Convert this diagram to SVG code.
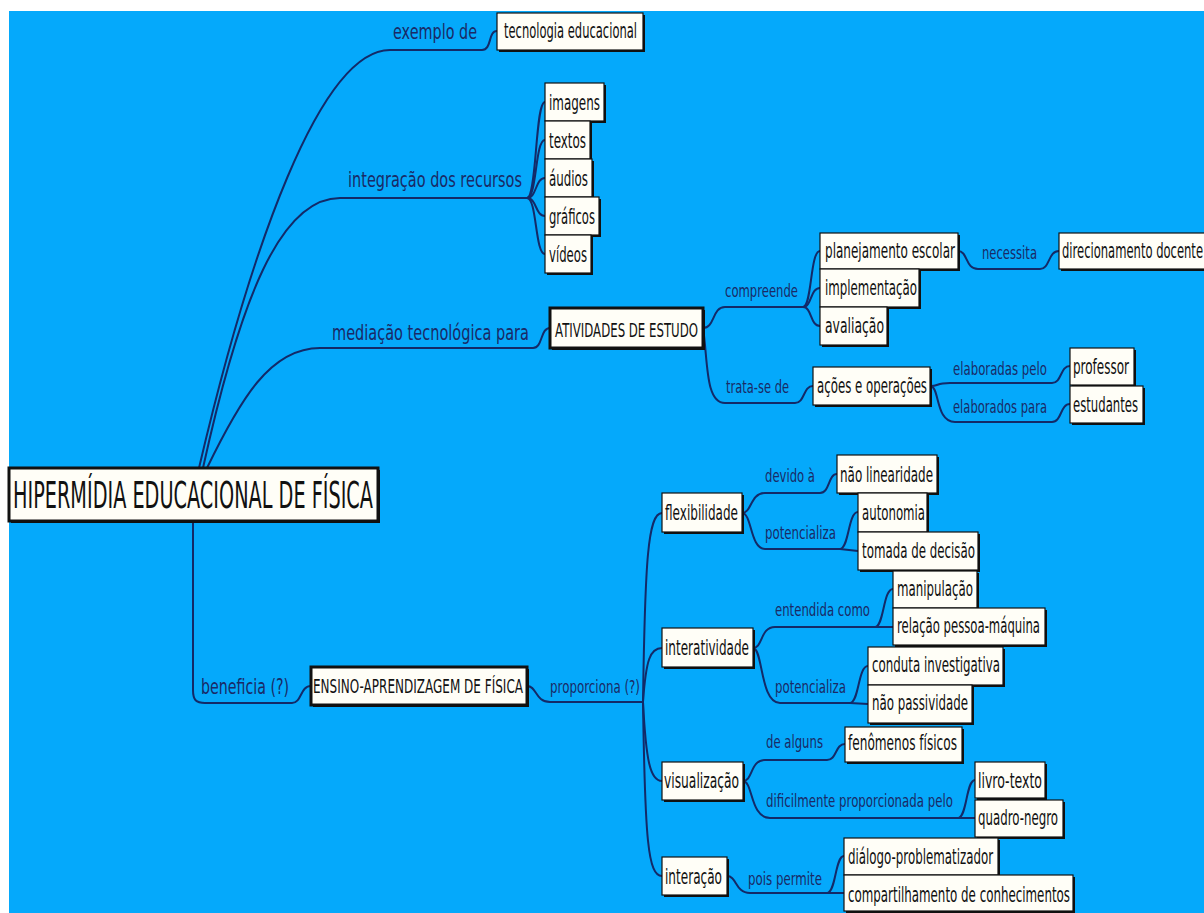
<svg xmlns="http://www.w3.org/2000/svg" width="1204" height="913" viewBox="0 0 1204 913">
<style>
.bg{fill:#05A9FB}
.sh{fill:#111}
.box{fill:#FFFEF7;stroke:#111;stroke-width:1.2}
.boxb{fill:#FFFEF7;stroke:#111;stroke-width:3}
.t{font-family:"DejaVu Sans","Liberation Sans",sans-serif;font-size:21px;fill:#111}
.tb{font-family:"DejaVu Sans","Liberation Sans",sans-serif;font-size:20px;fill:#111}
.l1{font-family:"DejaVu Sans","Liberation Sans",sans-serif;font-size:22px;fill:#1A2A66}
.l2{font-family:"DejaVu Sans","Liberation Sans",sans-serif;font-size:18px;fill:#1A2A66}
.c path{fill:none;stroke:#132A68;stroke-width:2}
</style>
<rect x="0" y="0" width="1204" height="913" fill="#fff"/>
<rect class="bg" x="9" y="11" width="1195" height="902"/>

<g class="c" id="connectors">
<path d="M199,468 C250,250 320,50 390,50 L482,50 C492,50 488,31 497,31"/>
<path d="M203,468 C240,300 280,198 340,198 L527,198"/>
<path d="M527,198 C537,198 535,102 545,102"/>
<path d="M527,198 C537,198 535,140 545,140"/>
<path d="M527,198 C537,198 535,178 545,178"/>
<path d="M527,198 C537,198 535,216 545,216"/>
<path d="M527,198 C537,198 535,254 545,254"/>
<path d="M207,468 C240,400 270,348 320,348 L533,348 C543,348 540,328 550,328"/>
<path d="M703,328 C715,328 712,307 725,307 L803,307"/>
<path d="M803,307 C812,307 810,251 820,251"/>
<path d="M803,307 C812,307 810,288 820,288"/>
<path d="M803,307 C812,307 810,326 820,326"/>
<path d="M958,251 C968,251 965,269 978,269 L1040,269 C1050,269 1048,251 1059,251"/>
<path d="M703,328 C708,360 705,403 725,403 L795,403 C805,403 803,386 813,386"/>
<path d="M930,386 C940,386 935,383 950,383 L1052,383 C1062,383 1060,366 1070,366"/>
<path d="M930,386 C940,386 935,422 955,422 L1052,422 C1062,422 1060,404 1070,404"/>
<path d="M193,521 L193,690 C193,700 196,703 205,703 L292,703 C302,703 300,686 311,686"/>
<path d="M527,686 C537,686 535,702 550,702 L643,702"/>
<path d="M643,702 C645,560 648,513 662,513"/>
<path d="M643,702 C646,660 650,648 662,648"/>
<path d="M643,702 C646,760 650,781 662,781"/>
<path d="M643,702 C645,840 648,876 662,876"/>
<path d="M742,513 C752,513 750,493 765,493 L820,493 C830,493 828,474 837,474"/>
<path d="M742,513 C752,513 750,549 765,549 L840,549"/>
<path d="M840,549 C849,549 848,512 858,512"/>
<path d="M840,549 L858,551"/>
<path d="M753,648 C763,648 760,627 775,627 L875,627"/>
<path d="M875,627 C884,627 883,589 893,589"/>
<path d="M875,627 L893,627"/>
<path d="M753,648 C763,648 760,703 780,703 L850,703"/>
<path d="M850,703 C859,703 858,666 868,666"/>
<path d="M850,703 L868,704"/>
<path d="M743,781 C753,781 750,760 765,760 L827,760 C837,760 835,744 845,744"/>
<path d="M743,781 C753,781 750,818 770,818 L958,818"/>
<path d="M958,818 C967,818 966,780 975,780"/>
<path d="M958,818 L975,818"/>
<path d="M727,876 C737,876 735,893 750,893 L827,893"/>
<path d="M827,893 C836,893 835,856 844,856"/>
<path d="M827,893 L844,893"/>
</g>

<g id="labels">
<text class="l1" x="393" y="39" textLength="84" lengthAdjust="spacingAndGlyphs">exemplo de</text>
<text class="l1" x="348" y="187" textLength="174" lengthAdjust="spacingAndGlyphs">integração dos recursos</text>
<text class="l1" x="332" y="340" textLength="197" lengthAdjust="spacingAndGlyphs">mediação tecnológica para</text>
<text class="l2" x="725" y="297" textLength="73" lengthAdjust="spacingAndGlyphs">compreende</text>
<text class="l2" x="982" y="259" textLength="55" lengthAdjust="spacingAndGlyphs">necessita</text>
<text class="l2" x="726" y="393" textLength="63" lengthAdjust="spacingAndGlyphs">trata-se de</text>
<text class="l2" x="953" y="375" textLength="94" lengthAdjust="spacingAndGlyphs">elaboradas pelo</text>
<text class="l2" x="953" y="413" textLength="94" lengthAdjust="spacingAndGlyphs">elaborados para</text>
<text class="l1" x="201" y="694" textLength="88" lengthAdjust="spacingAndGlyphs">beneficia (?)</text>
<text class="l2" x="550" y="693" textLength="90" lengthAdjust="spacingAndGlyphs">proporciona (?)</text>
<text class="l2" x="765" y="482" textLength="50" lengthAdjust="spacingAndGlyphs">devido à</text>
<text class="l2" x="765" y="539" textLength="71" lengthAdjust="spacingAndGlyphs">potencializa</text>
<text class="l2" x="775" y="616" textLength="95" lengthAdjust="spacingAndGlyphs">entendida como</text>
<text class="l2" x="775" y="693" textLength="71" lengthAdjust="spacingAndGlyphs">potencializa</text>
<text class="l2" x="766" y="748" textLength="57" lengthAdjust="spacingAndGlyphs">de alguns</text>
<text class="l2" x="766" y="807" textLength="187" lengthAdjust="spacingAndGlyphs">dificilmente proporcionada pelo</text>
<text class="l2" x="748" y="885" textLength="74" lengthAdjust="spacingAndGlyphs">pois permite</text>
</g>

<g id="n-root"><rect class="sh" x="11" y="470" width="369" height="53"/><rect class="boxb" x="9" y="468" width="369" height="53"/><text class="t" style="font-size:37px" x="13" y="508" textLength="360" lengthAdjust="spacingAndGlyphs">HIPERMÍDIA EDUCACIONAL DE FÍSICA</text></g>

<g id="n-tecnologia"><rect class="sh" x="499" y="15" width="146" height="37"/><rect class="box" x="497" y="13" width="146" height="37"/><text class="t" x="504" y="38" textLength="133" lengthAdjust="spacingAndGlyphs">tecnologia educacional</text></g>

<g id="n-imagens"><rect class="sh" x="547" y="85" width="59" height="38"/><rect class="box" x="545" y="83" width="59" height="38"/><text class="t" x="549" y="110" textLength="51" lengthAdjust="spacingAndGlyphs">imagens</text></g>
<g id="n-textos"><rect class="sh" x="547" y="123" width="45" height="38"/><rect class="box" x="545" y="121" width="45" height="38"/><text class="t" x="549" y="148" textLength="37" lengthAdjust="spacingAndGlyphs">textos</text></g>
<g id="n-audios"><rect class="sh" x="547" y="161" width="47" height="38"/><rect class="box" x="545" y="159" width="47" height="38"/><text class="t" x="549" y="186" textLength="39" lengthAdjust="spacingAndGlyphs">áudios</text></g>
<g id="n-graficos"><rect class="sh" x="547" y="199" width="54" height="38"/><rect class="box" x="545" y="197" width="54" height="38"/><text class="t" x="549" y="224" textLength="46" lengthAdjust="spacingAndGlyphs">gráficos</text></g>
<g id="n-videos"><rect class="sh" x="547" y="237" width="46" height="38"/><rect class="box" x="545" y="235" width="46" height="38"/><text class="t" x="549" y="262" textLength="38" lengthAdjust="spacingAndGlyphs">vídeos</text></g>

<g id="n-atividades"><rect class="sh" x="552" y="310" width="153" height="40"/><rect class="boxb" x="550" y="308" width="153" height="40"/><text class="tb" x="555" y="337" textLength="143" lengthAdjust="spacingAndGlyphs">ATIVIDADES DE ESTUDO</text></g>

<g id="n-planejamento"><rect class="sh" x="822" y="235" width="138" height="36"/><rect class="box" x="820" y="233" width="138" height="36"/><text class="t" x="825" y="258" textLength="130" lengthAdjust="spacingAndGlyphs">planejamento escolar</text></g>
<g id="n-implementacao"><rect class="sh" x="822" y="271" width="99" height="38"/><rect class="box" x="820" y="269" width="99" height="38"/><text class="t" x="825" y="295" textLength="92" lengthAdjust="spacingAndGlyphs">implementação</text></g>
<g id="n-avaliacao"><rect class="sh" x="822" y="309" width="67" height="38"/><rect class="box" x="820" y="307" width="67" height="38"/><text class="t" x="825" y="333" textLength="59" lengthAdjust="spacingAndGlyphs">avaliação</text></g>
<g id="n-direcionamento"><rect class="sh" x="1061" y="235" width="160" height="36"/><rect class="box" x="1059" y="233" width="160" height="36"/><text class="t" x="1062" y="258" textLength="141" lengthAdjust="spacingAndGlyphs">direcionamento docente</text></g>

<g id="n-acoes"><rect class="sh" x="815" y="369" width="117" height="38"/><rect class="box" x="813" y="367" width="117" height="38"/><text class="t" x="817" y="393" textLength="110" lengthAdjust="spacingAndGlyphs">ações e operações</text></g>
<g id="n-professor"><rect class="sh" x="1072" y="350" width="64" height="37"/><rect class="box" x="1070" y="348" width="64" height="37"/><text class="t" x="1073" y="374" textLength="56" lengthAdjust="spacingAndGlyphs">professor</text></g>
<g id="n-estudantes"><rect class="sh" x="1072" y="388" width="73" height="37"/><rect class="box" x="1070" y="386" width="73" height="37"/><text class="t" x="1073" y="412" textLength="65" lengthAdjust="spacingAndGlyphs">estudantes</text></g>

<g id="n-ensino"><rect class="sh" x="313" y="669" width="216" height="38"/><rect class="boxb" x="311" y="667" width="216" height="38"/><text class="tb" x="313" y="693" textLength="210" lengthAdjust="spacingAndGlyphs">ENSINO-APRENDIZAGEM DE FÍSICA</text></g>

<g id="n-flexibilidade"><rect class="sh" x="664" y="495" width="80" height="39"/><rect class="box" x="662" y="493" width="80" height="39"/><text class="t" x="665" y="520" textLength="73" lengthAdjust="spacingAndGlyphs">flexibilidade</text></g>
<g id="n-naolinearidade"><rect class="sh" x="839" y="457" width="100" height="38"/><rect class="box" x="837" y="455" width="100" height="38"/><text class="t" x="840" y="482" textLength="93" lengthAdjust="spacingAndGlyphs">não linearidade</text></g>
<g id="n-autonomia"><rect class="sh" x="860" y="495" width="69" height="39"/><rect class="box" x="858" y="493" width="69" height="39"/><text class="t" x="862" y="520" textLength="63" lengthAdjust="spacingAndGlyphs">autonomia</text></g>
<g id="n-tomada"><rect class="sh" x="860" y="534" width="120" height="38"/><rect class="box" x="858" y="532" width="120" height="38"/><text class="t" x="862" y="558" textLength="113" lengthAdjust="spacingAndGlyphs">tomada de decisão</text></g>

<g id="n-interatividade"><rect class="sh" x="664" y="630" width="91" height="39"/><rect class="box" x="662" y="628" width="91" height="39"/><text class="t" x="665" y="655" textLength="84" lengthAdjust="spacingAndGlyphs">interatividade</text></g>
<g id="n-manipulacao"><rect class="sh" x="895" y="573" width="84" height="37"/><rect class="box" x="893" y="571" width="84" height="37"/><text class="t" x="897" y="596" textLength="76" lengthAdjust="spacingAndGlyphs">manipulação</text></g>
<g id="n-relacao"><rect class="sh" x="895" y="610" width="152" height="37"/><rect class="box" x="893" y="608" width="152" height="37"/><text class="t" x="897" y="633" textLength="143" lengthAdjust="spacingAndGlyphs">relação pessoa-máquina</text></g>
<g id="n-conduta"><rect class="sh" x="870" y="649" width="135" height="38"/><rect class="box" x="868" y="647" width="135" height="38"/><text class="t" x="872" y="672" textLength="128" lengthAdjust="spacingAndGlyphs">conduta investigativa</text></g>
<g id="n-naopassividade"><rect class="sh" x="870" y="687" width="104" height="38"/><rect class="box" x="868" y="685" width="104" height="38"/><text class="t" x="872" y="710" textLength="96" lengthAdjust="spacingAndGlyphs">não passividade</text></g>

<g id="n-visualizacao"><rect class="sh" x="664" y="764" width="81" height="38"/><rect class="box" x="662" y="762" width="81" height="38"/><text class="t" x="664" y="788" textLength="75" lengthAdjust="spacingAndGlyphs">visualização</text></g>
<g id="n-fenomenos"><rect class="sh" x="847" y="729" width="117" height="35"/><rect class="box" x="845" y="727" width="117" height="35"/><text class="t" x="848" y="750" textLength="109" lengthAdjust="spacingAndGlyphs">fenômenos físicos</text></g>
<g id="n-livro"><rect class="sh" x="977" y="764" width="70" height="36"/><rect class="box" x="975" y="762" width="70" height="36"/><text class="t" x="978" y="788" textLength="64" lengthAdjust="spacingAndGlyphs">livro-texto</text></g>
<g id="n-quadro"><rect class="sh" x="977" y="802" width="88" height="37"/><rect class="box" x="975" y="800" width="88" height="37"/><text class="t" x="978" y="825" textLength="80" lengthAdjust="spacingAndGlyphs">quadro-negro</text></g>

<g id="n-interacao"><rect class="sh" x="664" y="859" width="65" height="38"/><rect class="box" x="662" y="857" width="65" height="38"/><text class="t" x="665" y="884" textLength="57" lengthAdjust="spacingAndGlyphs">interação</text></g>
<g id="n-dialogo"><rect class="sh" x="846" y="840" width="154" height="37"/><rect class="box" x="844" y="838" width="154" height="37"/><text class="t" x="848" y="864" textLength="145" lengthAdjust="spacingAndGlyphs">diálogo-problematizador</text></g>
<g id="n-compartilhamento"><rect class="sh" x="846" y="877" width="229" height="36"/><rect class="box" x="844" y="875" width="229" height="36"/><text class="t" x="848" y="902" textLength="222" lengthAdjust="spacingAndGlyphs">compartilhamento de conhecimentos</text></g>
</svg>
